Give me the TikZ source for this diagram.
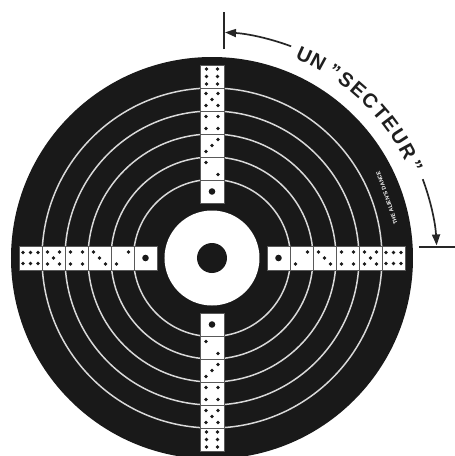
\documentclass[tikz,border=0pt]{standalone}
\usepackage{fontspec}
\setsansfont{Liberation Sans}
\usetikzlibrary{arrows.meta}
\begin{document}
\begin{tikzpicture}[x=1pt,y=1pt,
  ring/.style={draw=white!85!black, line width=1.5pt},
  diebox/.style={fill=white, draw=black!65, line width=0.6pt},
  pipdot/.style={fill=black!90},
  annot/.style={line width=1.7pt, draw=black!85},
  tip/.style={-{Triangle[length=11pt,width=8pt]}},
  arcchar/.style={font=\sffamily\bfseries\fontsize{20}{20}\selectfont, text=black!88, inner sep=0pt, anchor=base}]
\useasboundingbox (-212,-198) rectangle (243,258);
% disc
\fill[black!90] (0,0) circle[radius=201];
\foreach \r in {78.5,101,124,147,170} \draw[ring] (0,0) circle[radius=\r];
\fill[white] (0,0) circle[radius=47.5];
\fill[black!90] (0,0) circle[radius=15];
% dice
\foreach \a in {0,90,180,270}{
  \foreach \k in {1,...,6}{
    \begin{scope}[shift={(\a:{66.5+23*(\k-1)})}, rotate=\a-90]
      \draw[diebox] (-12,-11.5) rectangle (12,11.5);
      \ifcase\k\or
        \fill[pipdot] (0,0) circle[radius=3.3];
      \or
        \fill[pipdot] (-6,6) circle[radius=1.9] (6,-6) circle[radius=1.9];
      \or
        \fill[pipdot] (-6,-6) circle[radius=1.9] (0,0) circle[radius=1.9] (6,6) circle[radius=1.9];
      \or
        \fill[pipdot] (-6,-6) circle[radius=1.9] (6,-6) circle[radius=1.9]
                      (-6,6) circle[radius=1.9] (6,6) circle[radius=1.9];
      \or
        \fill[pipdot] (-6,-6) circle[radius=1.9] (6,-6) circle[radius=1.9]
                      (-6,6) circle[radius=1.9] (6,6) circle[radius=1.9]
                      (0,0) circle[radius=1.9];
      \or
        \fill[pipdot] (-5.5,-7.5) circle[radius=1.8] (5.5,-7.5) circle[radius=1.8]
                      (-5.5,0) circle[radius=1.8] (5.5,0) circle[radius=1.8]
                      (-5.5,7.5) circle[radius=1.8] (5.5,7.5) circle[radius=1.8];
      \fi
    \end{scope}
  }
}
% small text inside the disc
\node[rotate=109, text=white, inner sep=0pt,
  font=\sffamily\bfseries\fontsize{5.5}{5.5}\selectfont] (dance) at (19:185) {THE ALIEN'S DANCE};
% sector annotation, letter by letter along the arc
\foreach \ang/\ch [count=\i] in {65.5/U,61.5/N,56.7/",53/S,48.9/E,44.8/C,40.8/T,36.9/E,32.8/U,28.6/R,24.2/"}
  \node[arcchar, rotate=\ang-90] (c\i) at (\ang:216) {\ch};
\coordinate (t1a) at (12,209);
\coordinate (t1b) at (12,246);
\coordinate (t2a) at (207,11);
\coordinate (t2b) at (243,11);
\coordinate (a1s) at (69.5:226);
\coordinate (a2s) at (20.5:225);
\draw[annot] (t1a) -- (t1b);
\draw[annot] (t2a) -- (t2b);
\draw[annot, tip] (a1s) arc[start angle=69.5, end angle=86.7, radius=226];
\draw[annot, tip] (a2s) arc[start angle=20.5, end angle=3.2, radius=225];
\end{tikzpicture}
\end{document}
